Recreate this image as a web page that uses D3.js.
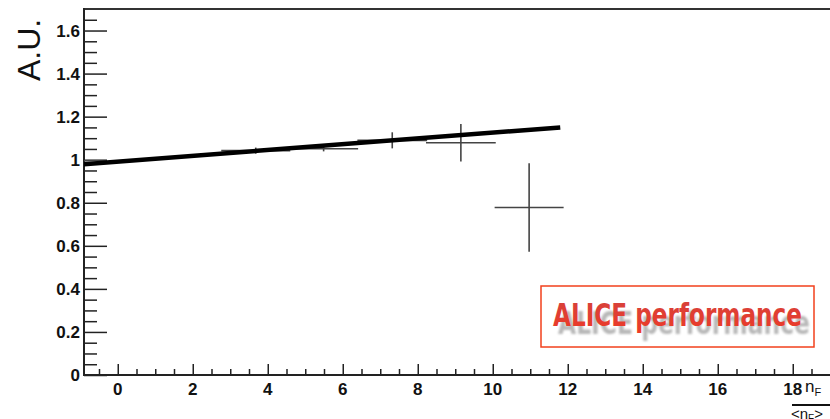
<!DOCTYPE html>
<html>
<head>
<meta charset="utf-8">
<script src="https://cdn.jsdelivr.net/npm/d3@7"></script>
<style>
  body { margin: 0; background: #fff; }
  svg { display: block; }
  .tick-label { font-family: "Liberation Sans", Arial, sans-serif; font-weight: bold; font-size: 17px; fill: #111; }
</style>
</head>
<body>
<div id="chart"></div>
<script>
// sizes
const wide = 830;
const high = 419;

// data
const nF = [-1.22, 3.68, 5.49, 7.32, 9.15, 10.97];
const nFErr = [0.92, 0.92, 0.92, 0.93, 0.93, 0.92];
const au = [0.995, 1.042, 1.051, 1.09, 1.079, 0.778];
const auErr = [0.0, 0.012, 0.01, 0.035, 0.085, 0.203];

// fitted line end points
const fitX = [-0.9, 11.8];
const fitY = [0.979, 1.15];

// tick labels
const xTicks = [0, 2, 4, 6, 8, 10, 12, 14, 16, 18];
const yTicks = [0, 0.2, 0.4, 0.6, 0.8, 1, 1.2, 1.4, 1.6];

const svg = d3.select("#chart").append("svg")
  .attr("width", wide)
  .attr("height", high);

const x = d3.scaleLinear().domain([-0.9, 19.5]).range([84, 849]);
const y = d3.scaleLinear().domain([0, 1.7]).range([375, 9]);

const defs = svg.append("defs");
defs.append("clipPath").attr("id", "plot")
  .append("rect")
  .attr("x", x(-0.9)).attr("y", y(1.7))
  .attr("width", x(19.5) - x(-0.9)).attr("height", y(0) - y(1.7));

// minor ticks
const xMinor = d3.range(-0.5, 19.5, 0.5).filter((v) => Math.abs(v / 2 - Math.round(v / 2)) > 1e-6);
const yMinor = d3.range(0.05, 1.7, 0.05).filter((v) => Math.abs(v / 0.2 - Math.round(v / 0.2)) > 1e-6);

function tickGroup(axis, tr) {
  const g = svg.append("g").attr("transform", tr).call(axis);
  g.select(".domain").remove();
  g.selectAll(".tick line").attr("stroke", "#222").attr("stroke-width", 1.5);
  return g;
}

// X axis (ticks pointing up)
tickGroup(d3.axisTop(x).tickValues(xTicks).tickSize(11).tickFormat(""), `translate(0,${y(0)})`);
tickGroup(d3.axisTop(x).tickValues(xMinor).tickSize(6).tickFormat(""), `translate(0,${y(0)})`);

svg.append("g").selectAll("text").data(xTicks).join("text")
  .attr("class", "tick-label")
  .attr("x", (d) => x(d))
  .attr("y", 395)
  .attr("text-anchor", "middle")
  .text((d) => d);

// Y axis (ticks pointing right)
tickGroup(d3.axisRight(y).tickValues(yTicks).tickSize(23).tickFormat(""), `translate(${x(-0.9)},0)`);
tickGroup(d3.axisRight(y).tickValues(yMinor).tickSize(13).tickFormat(""), `translate(${x(-0.9)},0)`);

svg.append("g").selectAll("text").data(yTicks).join("text")
  .attr("class", "tick-label")
  .attr("x", 80)
  .attr("y", (d) => y(d) + 6)
  .attr("text-anchor", "end")
  .text((d) => d);

// frame
svg.append("line")
  .attr("x1", x(-0.9)).attr("x2", wide)
  .attr("y1", y(0)).attr("y2", y(0))
  .attr("stroke", "#222").attr("stroke-width", 2);
svg.append("line")
  .attr("x1", x(-0.9)).attr("x2", wide)
  .attr("y1", y(1.7)).attr("y2", y(1.7))
  .attr("stroke", "#333").attr("stroke-width", 2);
svg.append("line")
  .attr("x1", x(-0.9)).attr("x2", x(-0.9))
  .attr("y1", y(1.7) - 1).attr("y2", y(0) + 1)
  .attr("stroke", "#222").attr("stroke-width", 2);

// error bars
const pts = svg.append("g").attr("clip-path", "url(#plot)");
pts.selectAll("line.h").data(nF).join("line")
  .attr("class", "h")
  .attr("x1", (d, i) => x(d - nFErr[i]))
  .attr("x2", (d, i) => x(d + nFErr[i]))
  .attr("y1", (d, i) => y(au[i]))
  .attr("y2", (d, i) => y(au[i]))
  .attr("stroke", "#444").attr("stroke-width", 1.6);
pts.selectAll("line.v").data(nF).join("line")
  .attr("class", "v")
  .attr("x1", (d) => x(d))
  .attr("x2", (d) => x(d))
  .attr("y1", (d, i) => y(au[i] - auErr[i]) + 0.5)
  .attr("y2", (d, i) => y(au[i] + auErr[i]) - 0.5)
  .attr("stroke", "#444").attr("stroke-width", 1.6);

// fit line
pts.append("path")
  .datum(fitX.map((v, i) => [v, fitY[i]]))
  .attr("d", d3.line().x((d) => x(d[0])).y((d) => y(d[1])))
  .attr("fill", "none")
  .attr("stroke", "#000")
  .attr("stroke-width", 4.5);

// Y axis title
svg.append("text")
  .attr("transform", "translate(40,81) rotate(-90)")
  .attr("font-family", "Liberation Sans, Arial, sans-serif")
  .attr("font-size", 32)
  .attr("fill", "#111")
  .text("A.U.");

// X axis title n_F / <n_F>
const xt = svg.append("text")
  .attr("x", 805).attr("y", 392)
  .attr("font-family", "Liberation Sans, Arial, sans-serif")
  .attr("font-size", 17)
  .attr("fill", "#111");
xt.append("tspan").text("n");
xt.append("tspan").attr("font-size", 11).attr("dy", 4).text("F");
svg.append("line")
  .attr("x1", 792).attr("x2", wide)
  .attr("y1", 405).attr("y2", 405)
  .attr("stroke", "#111").attr("stroke-width", 2);
const xb = svg.append("text")
  .attr("x", 791).attr("y", 419)
  .attr("font-family", "Liberation Sans, Arial, sans-serif")
  .attr("font-size", 15)
  .attr("fill", "#111");
xb.append("tspan").text("<n");
xb.append("tspan").attr("font-size", 10).attr("dy", 3).text("F");
xb.append("tspan").attr("dy", -3).text(">");

// ALICE performance label
const grad = defs.append("linearGradient")
  .attr("id", "red").attr("x1", 0).attr("x2", 0).attr("y1", 0).attr("y2", 1);
grad.append("stop").attr("offset", "0%").attr("stop-color", "#d4423e");
grad.append("stop").attr("offset", "100%").attr("stop-color", "#ee3a26");
defs.append("filter").attr("id", "blur")
  .append("feGaussianBlur").attr("stdDeviation", 1.2);

svg.append("rect")
  .attr("x", 541).attr("y", 286)
  .attr("width", 273).attr("height", 61)
  .attr("fill", "#fff")
  .attr("stroke", "#f2401c").attr("stroke-width", 1.5);
svg.append("text")
  .attr("x", 558).attr("y", 334)
  .attr("textLength", 252).attr("lengthAdjust", "spacingAndGlyphs")
  .attr("font-family", "Liberation Sans Narrow, DejaVu Sans Condensed, sans-serif")
  .attr("font-weight", "bold")
  .attr("font-size", 32)
  .attr("fill", "#b8b8b8")
  .attr("filter", "url(#blur)")
  .text("ALICE performance");
svg.append("text")
  .attr("x", 553).attr("y", 326)
  .attr("textLength", 249).attr("lengthAdjust", "spacingAndGlyphs")
  .attr("font-family", "Liberation Sans Narrow, DejaVu Sans Condensed, sans-serif")
  .attr("font-weight", "bold")
  .attr("font-size", 32)
  .attr("fill", "url(#red)")
  .text("ALICE performance");
</script>
</body>
</html>
